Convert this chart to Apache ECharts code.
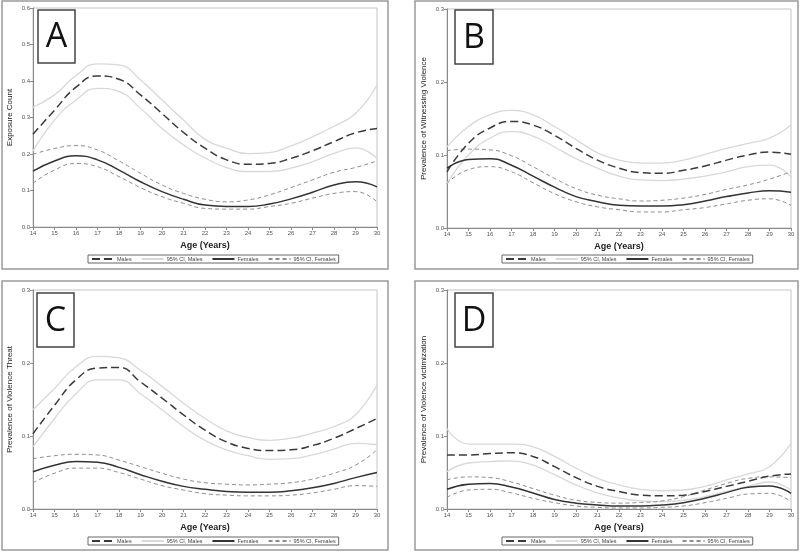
<!DOCTYPE html>
<html>
<head>
<meta charset="utf-8">
<script src="https://cdn.jsdelivr.net/npm/echarts@6/dist/echarts.min.js"></script>
<style>
html,body{margin:0;padding:0;background:#fff;}
#chart{width:800px;height:552px;}
</style>
</head>
<body>
<div id="chart"></div>
<script>
// ---- Data ----
const ages = [14,15,16,17,18,19,20,21,22,23,24,25,26,27,28,29,30];
const xTicks = [14,15,16,17,18,19,20,21,22,23,24,25,26,27,28,29,30];
const legendNames = ['Males','95% CI, Males','Females','95% CI, Females'];
const panelLetters = ['A','B','C','D'];
const yTitles = ['Exposure Count','Prevalence of Witnessing Violence','Prevalence of Violence Threat','Prevalence of Violence victimization'];
const yMax = [0.6, 0.3, 0.3, 0.3];

// Panel A: Exposure Count
const aMale   = [0.254,0.320,0.383,0.414,0.405,0.362,0.311,0.259,0.216,0.184,0.172,0.174,0.188,0.209,0.234,0.258,0.270];
const aMaleUp = [0.328,0.362,0.415,0.447,0.444,0.403,0.348,0.293,0.240,0.216,0.201,0.204,0.222,0.247,0.276,0.311,0.389];
const aMaleLo = [0.208,0.293,0.348,0.380,0.371,0.325,0.270,0.225,0.189,0.163,0.152,0.152,0.161,0.179,0.202,0.217,0.188];
const aFem    = [0.153,0.181,0.195,0.184,0.156,0.124,0.097,0.076,0.060,0.056,0.056,0.063,0.077,0.095,0.115,0.124,0.110];
const aFemUp  = [0.199,0.215,0.223,0.211,0.181,0.147,0.115,0.092,0.076,0.069,0.074,0.088,0.108,0.129,0.150,0.163,0.181];
const aFemLo  = [0.120,0.156,0.174,0.165,0.138,0.108,0.083,0.065,0.051,0.049,0.049,0.056,0.065,0.079,0.092,0.097,0.069];

// Panel B: Witnessing Violence
const bMale   = [0.077,0.116,0.137,0.146,0.141,0.127,0.109,0.093,0.082,0.076,0.075,0.079,0.085,0.093,0.100,0.104,0.101];
const bMaleUp = [0.111,0.139,0.155,0.161,0.155,0.139,0.121,0.103,0.093,0.089,0.089,0.093,0.101,0.109,0.116,0.123,0.141];
const bMaleLo = [0.061,0.100,0.123,0.132,0.126,0.111,0.095,0.082,0.071,0.066,0.065,0.067,0.071,0.077,0.084,0.086,0.070];
const bFem    = [0.082,0.094,0.095,0.086,0.071,0.056,0.043,0.036,0.031,0.030,0.030,0.032,0.037,0.043,0.048,0.051,0.049];
const bFemUp  = [0.106,0.108,0.107,0.099,0.084,0.068,0.054,0.045,0.040,0.037,0.038,0.041,0.046,0.053,0.059,0.067,0.077];
const bFemLo  = [0.061,0.080,0.084,0.077,0.062,0.047,0.036,0.029,0.025,0.022,0.022,0.025,0.028,0.033,0.038,0.040,0.031];

// Panel C: Violence Threat
const cMale   = [0.103,0.142,0.177,0.193,0.194,0.174,0.152,0.129,0.108,0.092,0.083,0.080,0.081,0.087,0.097,0.110,0.124];
const cMaleUp = [0.136,0.165,0.195,0.209,0.207,0.190,0.168,0.145,0.124,0.107,0.098,0.094,0.097,0.104,0.113,0.129,0.170];
const cMaleLo = [0.085,0.124,0.158,0.177,0.177,0.158,0.136,0.113,0.094,0.081,0.073,0.068,0.069,0.074,0.082,0.090,0.088];
const cFem    = [0.051,0.060,0.065,0.064,0.057,0.047,0.038,0.031,0.027,0.024,0.023,0.023,0.025,0.029,0.035,0.043,0.050];
const cFemUp  = [0.069,0.073,0.075,0.074,0.067,0.058,0.049,0.041,0.036,0.034,0.033,0.034,0.036,0.041,0.049,0.060,0.081];
const cFemLo  = [0.036,0.049,0.056,0.056,0.050,0.041,0.032,0.026,0.021,0.019,0.018,0.018,0.019,0.022,0.027,0.032,0.031];

// Panel D: Violence victimization
const dMale   = [0.074,0.074,0.076,0.077,0.072,0.058,0.043,0.031,0.024,0.019,0.018,0.019,0.024,0.031,0.038,0.045,0.048];
const dMaleUp = [0.110,0.089,0.089,0.089,0.085,0.072,0.056,0.042,0.033,0.027,0.025,0.026,0.031,0.040,0.048,0.058,0.090];
const dMaleLo = [0.051,0.063,0.065,0.066,0.060,0.047,0.033,0.022,0.015,0.011,0.010,0.012,0.017,0.024,0.031,0.037,0.026];
const dFem    = [0.027,0.034,0.035,0.030,0.022,0.013,0.008,0.0055,0.0041,0.0041,0.0055,0.0087,0.0146,0.0224,0.0297,0.0315,0.0215];
const dFemUp  = [0.040,0.044,0.043,0.037,0.028,0.019,0.012,0.009,0.008,0.009,0.011,0.017,0.026,0.035,0.042,0.044,0.043];
const dFemLo  = [0.016,0.026,0.027,0.022,0.0146,0.0087,0.0041,0.0023,0.0014,0.0014,0.0023,0.0041,0.0087,0.0146,0.0205,0.0215,0.010];

const panels = [
  [aMale,aMaleUp,aMaleLo,aFem,aFemUp,aFemLo],
  [bMale,bMaleUp,bMaleLo,bFem,bFemUp,bFemLo],
  [cMale,cMaleUp,cMaleLo,cFem,cFemUp,cFemLo],
  [dMale,dMaleUp,dMaleLo,dFem,dFemUp,dFemLo]
];

// ---- Layout ----
const gridPos = [
  {left:33, top:8, width:344, height:219},
  {left:447, top:9, width:344, height:219},
  {left:33, top:290, width:344, height:219},
  {left:447, top:290, width:344, height:219}
];
const framePos = [
  {x:2, y:1, w:386, h:268},
  {x:415, y:1, w:383, h:268},
  {x:2, y:281, w:386, h:269},
  {x:415, y:281, w:383, h:269}
];
const letterBox = [
  {x:38, y:10, w:37, h:53},
  {x:455, y:10, w:38, h:54},
  {x:37, y:293, w:37, h:54},
  {x:455, y:293, w:38, h:54}
];
const legendPos = [
  {left:88, top:255},
  {left:502, top:255},
  {left:88, top:537},
  {left:502, top:537}
];

const FONT = 'Liberation Sans, Arial, sans-serif';
const styles = [
  {name:'Males', color:'#3a3a3a', type:[8,4], width:1.5, z:5},
  {name:'95% CI, Males', color:'#d8d8d8', type:'solid', width:1.3, z:2},
  {name:'95% CI, Males', color:'#d8d8d8', type:'solid', width:1.3, z:2},
  {name:'Females', color:'#333333', type:'solid', width:1.5, z:5},
  {name:'95% CI, Females', color:'#8c8c8c', type:[4,3], width:1, z:3},
  {name:'95% CI, Females', color:'#8c8c8c', type:[4,3], width:1, z:3}
];

const grid = [], xAxis = [], yAxis = [], series = [], legend = [], graphic = [];
for (let i = 0; i < 4; i++) {
  grid.push(Object.assign({show:true, borderColor:'#c4c4c4', borderWidth:1, backgroundColor:'#fff'}, gridPos[i]));
  xAxis.push({
    type:'value', gridIndex:i, min:14, max:30, interval:1,
    name:'Age (Years)', nameLocation:'middle', nameGap:14,
    nameTextStyle:{fontFamily:FONT, fontSize:9, fontWeight:'bold', color:'#222'},
    axisLine:{show:true, lineStyle:{color:'#8a8a8a', width:1}},
    axisTick:{show:true, length:3, lineStyle:{color:'#8a8a8a'}},
    axisLabel:{fontFamily:FONT, fontSize:6, color:'#555', margin:3,
      formatter:v => xTicks.indexOf(v) >= 0 ? String(v) : ''},
    splitLine:{show:false}
  });
  yAxis.push({
    type:'value', gridIndex:i, min:0, max:yMax[i], interval:0.1,
    name:yTitles[i], nameLocation:'middle', nameGap:19, nameRotate:90,
    nameTextStyle:{fontFamily:FONT, fontSize:8, color:'#222'},
    axisLine:{show:true, lineStyle:{color:'#8a8a8a', width:1}},
    axisTick:{show:true, length:3, lineStyle:{color:'#8a8a8a'}},
    axisLabel:{fontFamily:FONT, fontSize:6, color:'#555', margin:3, formatter:v => v.toFixed(1)},
    splitLine:{show:false}
  });
  panels[i].forEach((arr, k) => {
    const s = styles[k];
    series.push({
      type:'line', name:s.name, xAxisIndex:i, yAxisIndex:i,
      data: ages.map((a, j) => [a, arr[j]]),
      smooth:0.5, symbol:'none', silent:true, z:s.z,
      itemStyle:{color:s.color},
      lineStyle:{color:s.color, width:s.width, type:s.type}
    });
  });
  legend.push({
    data:legendNames, left:legendPos[i].left, top:legendPos[i].top,
    orient:'horizontal', itemWidth:22, itemHeight:6, itemGap:9,
    padding:[1,3,1,3], borderColor:'#666', borderWidth:1,
    selectedMode:false,
    itemStyle:{opacity:0},
    textStyle:{fontFamily:FONT, fontSize:5.5, color:'#444', padding:[0,0,0,-2]}
  });
  const f = framePos[i];
  graphic.push({type:'rect', shape:{x:f.x, y:f.y, width:f.w, height:f.h},
    style:{fill:'none', stroke:'#9a9a9a', lineWidth:1.5}, z:-10, silent:true});
  const b = letterBox[i];
  graphic.push({type:'rect', shape:{x:b.x, y:b.y, width:b.w, height:b.h},
    style:{fill:'#fff', stroke:'#444', lineWidth:1.5}, z:50, silent:true});
  graphic.push({type:'text', x:b.x + b.w/2, y:b.y + b.h/2 + 1, z:51, silent:true,
    style:{text:panelLetters[i], fontFamily:'Open Sans, Liberation Sans, sans-serif', fontSize:34,
      fill:'#111', align:'center', verticalAlign:'middle'}});
}

const chart = echarts.init(document.getElementById('chart'), null, {renderer:'canvas'});
chart.setOption({
  animation:false,
  backgroundColor:'#fff',
  grid, xAxis, yAxis, series, legend, graphic
});
</script>
</body>
</html>
